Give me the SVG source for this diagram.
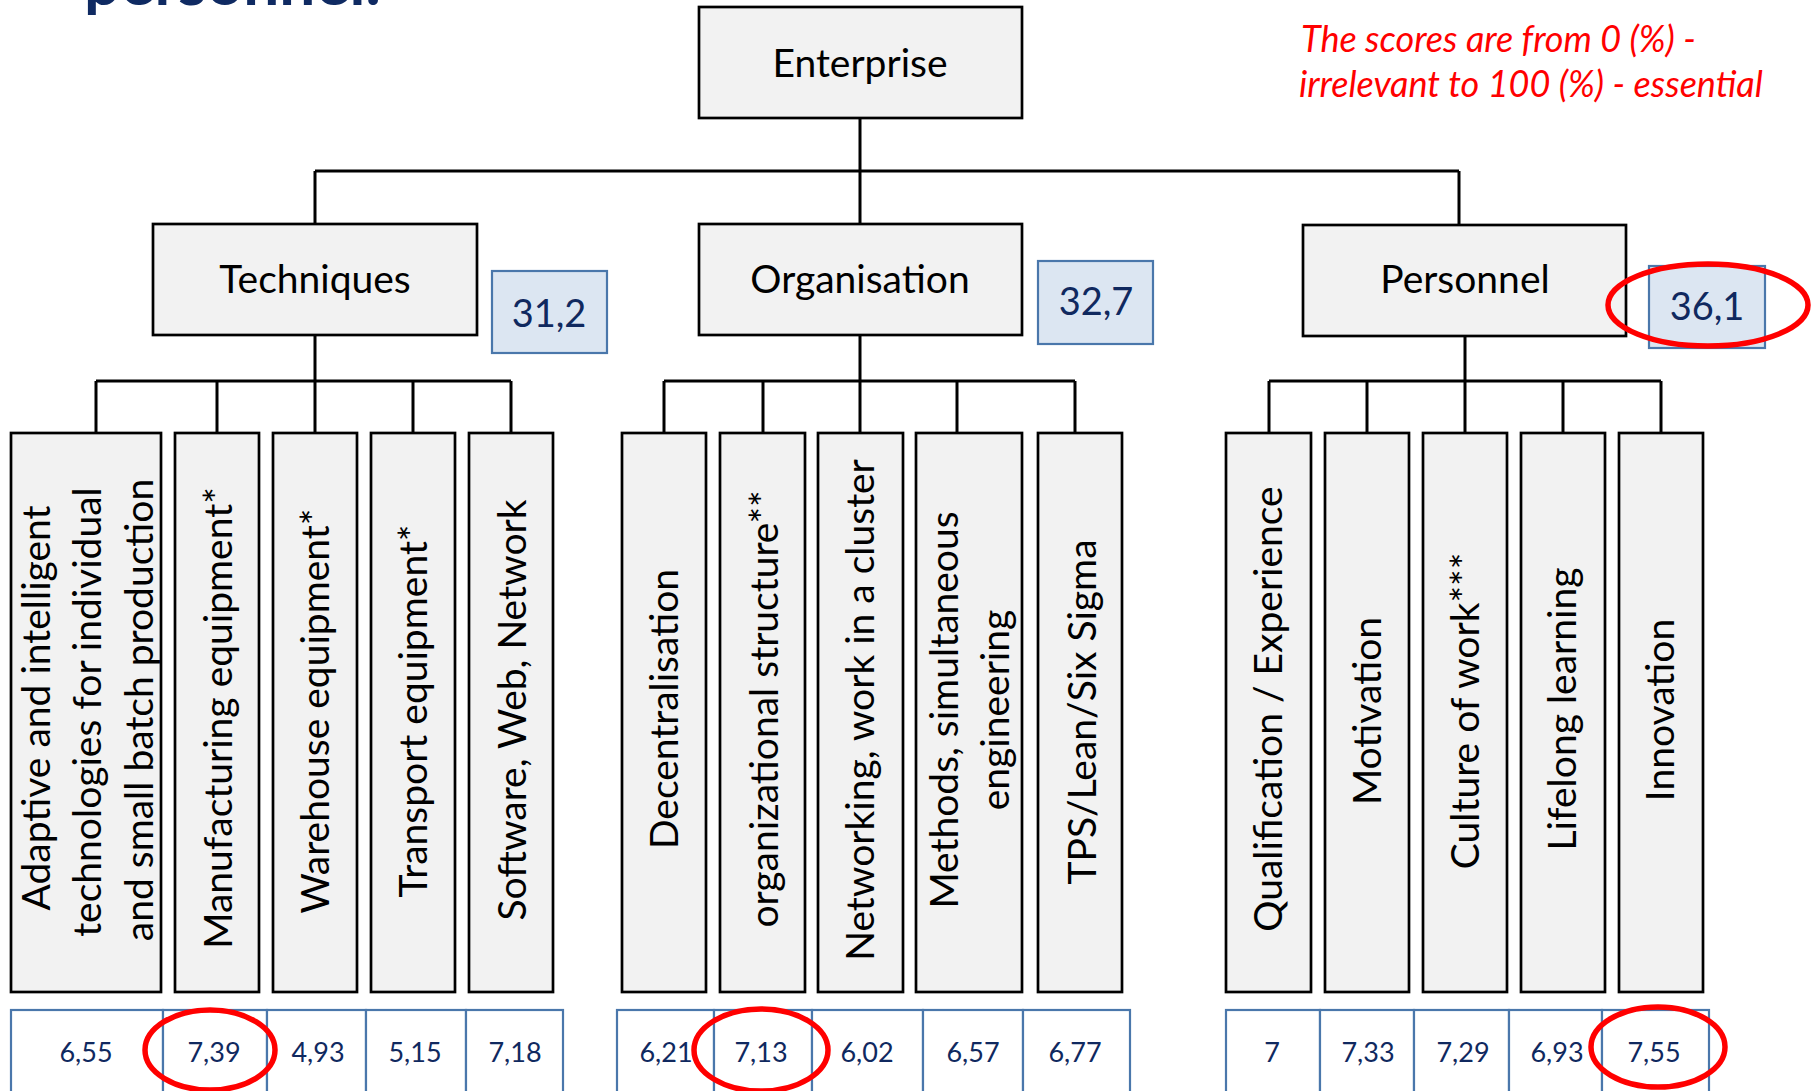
<svg xmlns="http://www.w3.org/2000/svg" width="1811" height="1091" viewBox="0 0 1811 1091">
<style>
.box{fill:#f2f2f2;stroke:#000;stroke-width:2.7}
.lbl{font-family:Lato,"Liberation Sans",sans-serif;font-size:39px;fill:#000;text-anchor:middle}
.vl{font-family:Lato,"Liberation Sans",sans-serif;font-size:39px;fill:#000;text-anchor:middle}
.score{fill:#dce6f2;stroke:#4a77ab;stroke-width:2.2}
.stxt{font-family:Lato,"Liberation Sans",sans-serif;font-size:38px;fill:#10295f;text-anchor:middle}
.cell{fill:#fff;stroke:#4a77ab;stroke-width:2.2}
.ctxt{font-family:Lato,"Liberation Sans",sans-serif;font-size:27px;fill:#10295f;text-anchor:middle}
.ring{fill:none;stroke:#ff0000;stroke-width:5.5}
.conn{fill:none;stroke:#000;stroke-width:3}
.note{font-family:Lato,"Liberation Sans",sans-serif;font-style:italic;font-size:36px;fill:#ff0000}
</style>
<rect width="1811" height="1091" fill="#fff"/>
<text x="84" y="5" font-family="Lato,'Liberation Sans',sans-serif" font-weight="bold" font-size="64" fill="#0f2a62">personnel.</text>
<text class="note" x="1301" y="52">The scores are from 0 (%) -</text>
<text class="note" x="1299" y="97">irrelevant to 100 (%) - essential</text>

<g id="connectors">
<path class="conn" d="M860,118 V224 M315,171 H1459 M315,171 V224 M1459,171 V225"/>
<path class="conn" d="M315,335 V381 M96,381 H511 M96,381 V433 M217,381 V433 M315,381 V433 M413,381 V433 M511,381 V433"/>
<path class="conn" d="M860,335 V381 M664,381 H1075 M664,381 V433 M763,381 V433 M860,381 V433 M957,381 V433 M1075,381 V433"/>
<path class="conn" d="M1465,336 V381 M1269,381 H1661 M1269,381 V433 M1367,381 V433 M1465,381 V433 M1563,381 V433 M1661,381 V433"/>
</g>

<g id="enterprise"><rect class="box" x="699" y="7" width="323" height="111"/><text class="lbl" x="860" y="77">Enterprise</text></g>
<g id="techniques"><rect class="box" x="153" y="224" width="324" height="111"/><text class="lbl" x="315" y="293">Techniques</text></g>
<g id="organisation"><rect class="box" x="699" y="224" width="323" height="111"/><text class="lbl" x="860" y="293">Organisation</text></g>
<g id="personnel"><rect class="box" x="1303" y="225" width="323" height="111"/><text class="lbl" x="1465" y="293">Personnel</text></g>

<g id="score-techniques"><rect class="score" x="492" y="271" width="115" height="82"/><text class="stxt" x="549" y="327">31,2</text></g>
<g id="score-organisation"><rect class="score" x="1038" y="261" width="115" height="83"/><text class="stxt" x="1096" y="315">32,7</text></g>
<g id="score-personnel"><rect class="score" x="1649" y="266" width="116" height="82"/><text class="stxt" x="1707" y="320">36,1</text></g>

<g id="t1"><rect class="box" x="11" y="433" width="150" height="559"/>
<text class="vl" transform="translate(50,708) rotate(-90)">Adaptive and intelligent</text>
<text class="vl" transform="translate(101,712) rotate(-90)">technologies for individual</text>
<text class="vl" transform="translate(153,710) rotate(-90)">and small batch production</text></g>
<g id="t2"><rect class="box" x="175" y="433" width="84" height="559"/><text class="vl" transform="translate(232,718) rotate(-90)">Manufacturing equipment*</text></g>
<g id="t3"><rect class="box" x="273" y="433" width="84" height="559"/><text class="vl" transform="translate(329,711) rotate(-90)">Warehouse equipment*</text></g>
<g id="t4"><rect class="box" x="371" y="433" width="84" height="559"/><text class="vl" transform="translate(427,711) rotate(-90)">Transport equipment*</text></g>
<g id="t5"><rect class="box" x="469" y="433" width="84" height="559"/><text class="vl" transform="translate(526,710) rotate(-90)">Software, Web, Network</text></g>

<g id="o1"><rect class="box" x="622" y="433" width="84" height="559"/><text class="vl" transform="translate(678,709) rotate(-90)">Decentralisation</text></g>
<g id="o2"><rect class="box" x="720" y="433" width="85" height="559"/><text class="vl" transform="translate(778,709) rotate(-90)">organizational structure**</text></g>
<g id="o3"><rect class="box" x="818" y="433" width="85" height="559"/><text class="vl" transform="translate(874,710) rotate(-90)">Networking, work in a cluster</text></g>
<g id="o4"><rect class="box" x="916" y="433" width="106" height="559"/>
<text class="vl" transform="translate(958,710) rotate(-90)">Methods, simultaneous</text>
<text class="vl" transform="translate(1009,710) rotate(-90)">engineering</text></g>
<g id="o5"><rect class="box" x="1038" y="433" width="84" height="559"/><text class="vl" transform="translate(1096,712) rotate(-90)">TPS/Lean/Six Sigma</text></g>

<g id="p1"><rect class="box" x="1226" y="433" width="85" height="559"/><text class="vl" transform="translate(1282,709) rotate(-90)">Qualification / Experience</text></g>
<g id="p2"><rect class="box" x="1325" y="433" width="84" height="559"/><text class="vl" transform="translate(1381,711) rotate(-90)">Motivation</text></g>
<g id="p3"><rect class="box" x="1423" y="433" width="84" height="559"/><text class="vl" transform="translate(1479,711) rotate(-90)">Culture of work***</text></g>
<g id="p4"><rect class="box" x="1521" y="433" width="84" height="559"/><text class="vl" transform="translate(1576,709) rotate(-90)">Lifelong learning</text></g>
<g id="p5"><rect class="box" x="1619" y="433" width="84" height="559"/><text class="vl" transform="translate(1674,710) rotate(-90)">Innovation</text></g>

<g id="table-techniques">
<rect class="cell" x="11" y="1010" width="152" height="100"/><rect class="cell" x="163" y="1010" width="104" height="100"/><rect class="cell" x="267" y="1010" width="99" height="100"/><rect class="cell" x="366" y="1010" width="100" height="100"/><rect class="cell" x="466" y="1010" width="97" height="100"/>
<text class="ctxt" x="86" y="1062">6,55</text><text class="ctxt" x="214" y="1062">7,39</text><text class="ctxt" x="318" y="1062">4,93</text><text class="ctxt" x="415" y="1062">5,15</text><text class="ctxt" x="515" y="1062">7,18</text>
</g>
<g id="table-organisation">
<rect class="cell" x="617" y="1010" width="97" height="100"/><rect class="cell" x="714" y="1010" width="98" height="100"/><rect class="cell" x="812" y="1010" width="111" height="100"/><rect class="cell" x="923" y="1010" width="100" height="100"/><rect class="cell" x="1023" y="1010" width="107" height="100"/>
<text class="ctxt" x="666" y="1062">6,21</text><text class="ctxt" x="761" y="1062">7,13</text><text class="ctxt" x="867" y="1062">6,02</text><text class="ctxt" x="973" y="1062">6,57</text><text class="ctxt" x="1075" y="1062">6,77</text>
</g>
<g id="table-personnel">
<rect class="cell" x="1226" y="1010" width="94" height="100"/><rect class="cell" x="1320" y="1010" width="94" height="100"/><rect class="cell" x="1414" y="1010" width="95" height="100"/><rect class="cell" x="1509" y="1010" width="93" height="100"/><rect class="cell" x="1602" y="1010" width="107" height="100"/>
<text class="ctxt" x="1272" y="1062">7</text><text class="ctxt" x="1368" y="1062">7,33</text><text class="ctxt" x="1463" y="1062">7,29</text><text class="ctxt" x="1557" y="1062">6,93</text><text class="ctxt" x="1654" y="1062">7,55</text>
</g>

<g id="highlights">
<ellipse class="ring" cx="1708" cy="305" rx="100" ry="41"/>
<ellipse class="ring" cx="210" cy="1050" rx="65" ry="40"/>
<ellipse class="ring" cx="761" cy="1050" rx="67" ry="41"/>
<ellipse class="ring" cx="1658" cy="1047" rx="67" ry="40"/>
</g>
</svg>
